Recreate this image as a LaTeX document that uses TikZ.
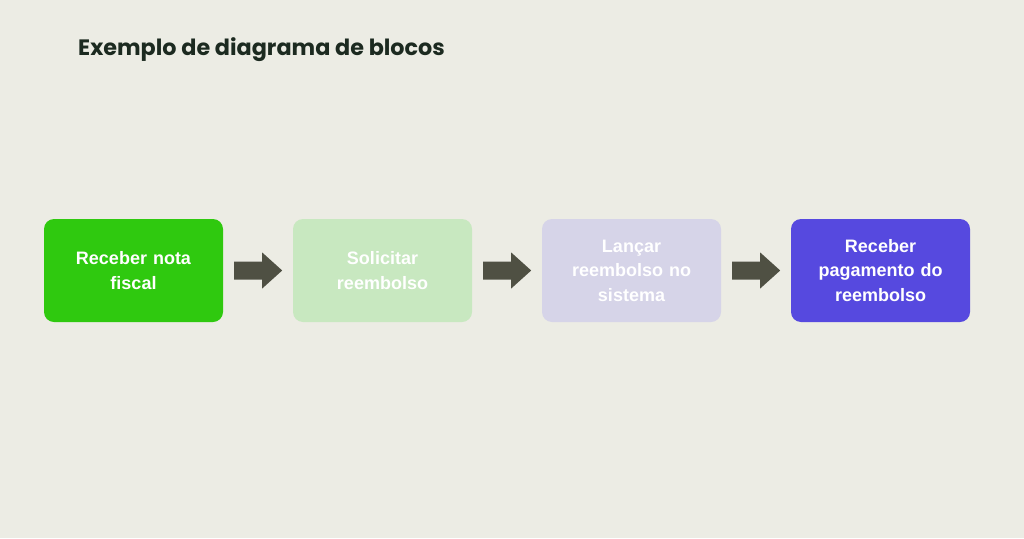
\documentclass[tikz,border=0pt]{standalone}
\usepackage{fontspec}
\setmainfont{Liberation Sans}
\newfontfamily\titlefont{Poppins}
\usetikzlibrary{calc}
\definecolor{bg}{HTML}{ECECE4}
\definecolor{c1}{HTML}{2FC90F}
\definecolor{c2}{HTML}{C8E8C0}
\definecolor{c3}{HTML}{D6D4E8}
\definecolor{c4}{HTML}{5649DF}
\definecolor{arr}{HTML}{4F5043}
\definecolor{ttl}{HTML}{1C2A20}
\tikzset{
  blockbox/.style={rounded corners=10pt, minimum width=179pt, minimum height=103pt,
    text=white, align=center, text width=160pt,
    font=\fontsize{18}{24.5}\selectfont\bfseries, inner sep=0pt},
  blockarrow/.style={fill=arr}
}
\begin{document}
\begin{tikzpicture}[x=1pt,y=-1pt]
\fill[bg] (0,0) rectangle (1024,538);
\useasboundingbox (0,0) rectangle (1024,538);
\node[anchor=base west, text=ttl, font=\titlefont\fontsize{22.3}{26}\selectfont\bfseries, inner sep=0pt] (title) at (78,55) {Exemplo de diagrama de blocos};
\node[blockbox, fill=c1] (b1) at (133.5,270.5) {Receber nota\\fiscal};
\node[blockbox, fill=c2] (b2) at (382.5,270.5) {Solicitar\\reembolso};
\node[blockbox, fill=c3] (b3) at (631.5,270.5) {Lançar\\reembolso no\\sistema};
\node[blockbox, fill=c4] (b4) at (880.5,270.5) {Receber\\pagamento do\\reembolso};
\foreach \a/\b in {b1/b2,b2/b3,b3/b4}{
  \coordinate (s) at ($(\a.east)+(11,0)$);
  \fill[blockarrow] (s) ++(0,-9) -- ++(28,0) -- ++(0,-9) -- ++(20,18) -- ++(-20,18) -- ++(0,-9) -- ++(-28,0) -- cycle;
}
\end{tikzpicture}
\end{document}
